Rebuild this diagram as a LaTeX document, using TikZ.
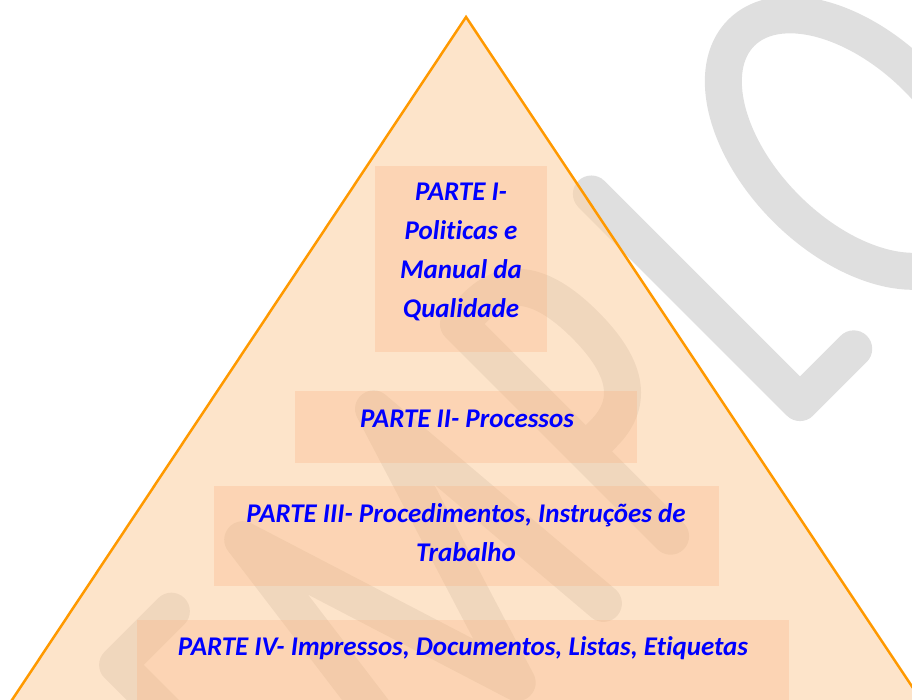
\documentclass[tikz,border=0pt]{standalone}
\usepackage{fontspec}
\setmainfont{Carlito}[Ligatures=NoCommon]
\usetikzlibrary{positioning}
\definecolor{pyrline}{RGB}{255,153,0}
\definecolor{pyrfill}{RGB}{252,210,167}
\definecolor{boxfill}{RGB}{250,178,129}
\definecolor{wmgrey}{RGB}{223,223,223}
\definecolor{textblue}{RGB}{0,0,255}

\begin{document}
\begin{tikzpicture}[x=1pt,y=-1pt,
  wm/.style={draw=wmgrey,line width=37pt,line cap=round,line join=round},
  part/.style={fill=boxfill,fill opacity=0.3,inner sep=0pt},
  parttext/.style={text=textblue,font=\bfseries\itshape\fontsize{27}{39}\selectfont,align=center}]
  \useasboundingbox (0,0) rectangle (912,699);
  \clip (0,0) rectangle (912,699);
  \begin{scope}[shift={(614,614)},x={(0.7071pt,0.7071pt)},y={(-0.7071pt,0.7071pt)}]
    \draw[wm] (-387,-60) -- (-387,315) -- (-311,315);
    \draw[wm] (-250,15) -- (-210,315) -- (-117,20) -- (-25,315) -- (0,15);
    \draw[wm] (95,15) -- (95,315) -- (120,315) .. controls (160,315) and (184,290) .. (184,225)
      .. controls (184,160) and (160,135) .. (120,135) -- (95,135);
    \draw[wm] (281,313) -- (281,18) -- (357,18);
    \draw[wm] (501,165) ellipse [x radius=92.5,y radius=156];
  \end{scope}
  \coordinate (apex) at (466,17);
  \coordinate (bl) at (8,706);
  \coordinate (br) at (925,706);
  \filldraw[draw=pyrline,line width=2.5pt,fill=pyrfill,fill opacity=0.6] (apex) -- (br) -- (bl) -- cycle;
  \node[part,minimum width=172pt,minimum height=186pt] (1) at (461,259) {};
  \node[part,minimum width=342pt,minimum height=72pt] (2) at (466,427) {};
  \node[part,minimum width=505pt,minimum height=100pt] (3) at (466.5,536) {};
  \node[part,minimum width=652pt,minimum height=100pt] (4) at (463,670) {};
  \node[parttext] (5) at (461,252) {PARTE I-\\Politicas e\\Manual da\\Qualidade};
  \node[parttext] (6) at (467,419) {PARTE II- Processos};
  \node[parttext] (7) at (466,532.5) {PARTE III- Procedimentos, Instruções de\\Trabalho};
  \node[parttext] (8) at (463,648) {PARTE IV- Impressos, Documentos, Listas, Etiquetas};
\end{tikzpicture}
\end{document}
